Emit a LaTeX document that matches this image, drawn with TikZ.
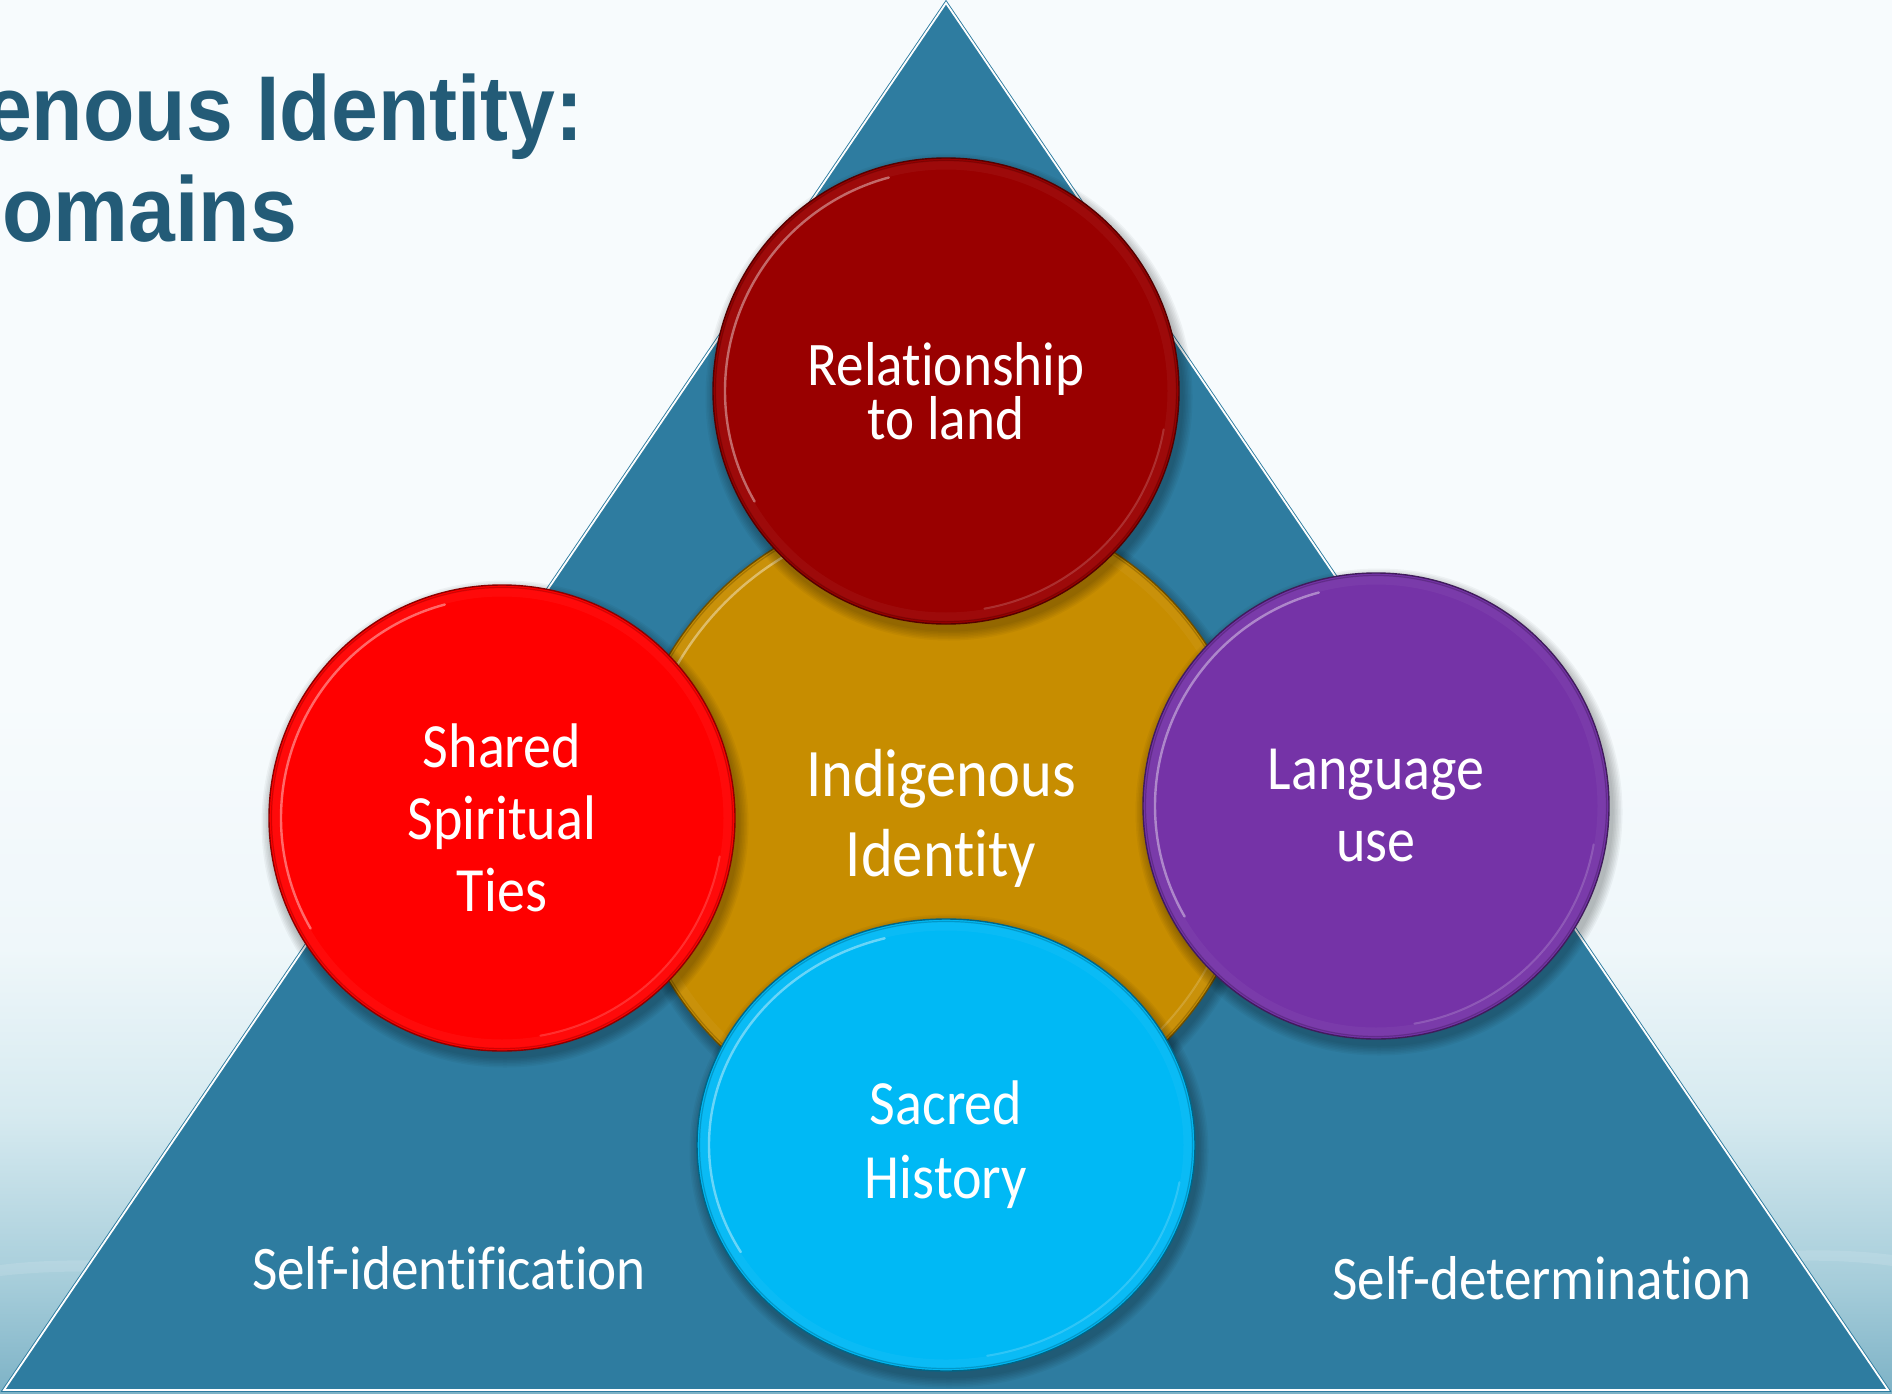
\documentclass[tikz,border=0pt]{standalone}
\usepackage{fontspec}
\setmainfont{Carlito}
\newfontfamily\lblfont{Carlito}[FakeStretch=0.89, Ligatures=NoCommon]
\newfontfamily\ttlfont{Liberation Sans}[FakeStretch=0.915]
\usetikzlibrary{shapes.geometric,calc}

\definecolor{bgtop}{HTML}{F7FBFD}
\definecolor{bgA}{HTML}{EFF7FA}
\definecolor{bgB}{HTML}{D6EAF0}
\definecolor{bgC}{HTML}{A6CDDA}
\definecolor{bgbot}{HTML}{7DB2C6}
\definecolor{tri}{HTML}{2E7CA0}
\definecolor{ttl}{HTML}{235B77}
\definecolor{cLand}{HTML}{990000}
\definecolor{cGold}{HTML}{C78D00}
\definecolor{cShared}{HTML}{FF0000}
\definecolor{cLang}{HTML}{7533A7}
\definecolor{cSacred}{HTML}{00B9F5}

% page background: pale at the top, sea blue towards the bottom
\pgfdeclareverticalshading{pagebg}{100bp}{%
  color(0bp)=(bgbot); color(25bp)=(bgbot); color(29bp)=(bgC);
  color(35bp)=(bgB); color(41bp)=(bgA); color(50bp)=(bgtop);
  color(75bp)=(bgtop); color(100bp)=(bgtop)}

\tikzset{
  disc/.style={circle, inner sep=0pt, minimum size=466pt, fill=#1,
    draw=#1!55!black, line width=1.4pt, text=white, align=center},
  lbl/.style={text=white, inner sep=0pt, font=\lblfont\fontsize{62}{70}\selectfont},
  ttltext/.style={text=ttl, inner sep=0pt, font=\ttlfont\bfseries\fontsize{92}{100}\selectfont},
}

% soft shadow under a disc: centre, x radius, y radius
\newcommand\discshadow[3]{%
  \foreach \k in {1,...,7}{%
    \fill[black, opacity=0.04] ($(#1)+(3,6)$) ellipse [x radius=#2+\k*1.5, y radius=#3+\k*1.5];}}
% bevelled rim of a disc: centre, x radius, y radius, colour
\newcommand\discrim[4]{%
  \draw[#4!88!white, line width=9pt, opacity=.35] (#1) ellipse [x radius=#2-7, y radius=#3-7];
  \draw[#4!50!black, line width=1.2pt, opacity=.35] (#1) ellipse [x radius=#2-2.5, y radius=#3-2.5];
  \draw[#4!45!white, line width=2.4pt, opacity=.75, line cap=round]
    ($(#1)+(150:{#2-12} and {#3-12})$) arc[start angle=150, end angle=255, x radius=#2-12, y radius=#3-12];
  \draw[#4!60!white, line width=2pt, opacity=.45, line cap=round]
    ($(#1)+(10:{#2-12} and {#3-12})$) arc[start angle=10, end angle=80, x radius=#2-12, y radius=#3-12];}

\begin{document}
\begin{tikzpicture}[x=1pt, y=-1pt]
\useasboundingbox (0,0) rectangle (1892,1394);
\clip (0,0) rectangle (1892,1394);
\shade[shading=pagebg] (0,0) rectangle (1892,1394);

% faint light streaks in the lower corners
\fill[white, opacity=.12] (0,1265) .. controls (120,1250) and (260,1275) .. (380,1290)
  -- (380,1298) .. controls (260,1284) and (120,1262) .. (0,1276) -- cycle;
\fill[white, opacity=.12] (1892,1255) .. controls (1780,1240) and (1660,1265) .. (1560,1280)
  -- (1560,1288) .. controls (1660,1274) and (1780,1250) .. (1892,1266) -- cycle;

% title
\node[ttltext, anchor=base east] (title1) at (584,141) {enous Identity:};
\node[ttltext, anchor=base west] (title2) at (2,241) {omains};

% the triangle
\coordinate (apex) at (946,3);
\coordinate (bl) at (4,1390);
\coordinate (br) at (1888,1390);
\fill[tri] (apex) -- (bl) -- (br) -- cycle;
\draw[tri, double=white, double distance=1.8pt, line width=0.9pt, line join=miter]
  (apex) -- (bl) -- (br) -- cycle;

% base labels
\node[lbl] (selfid) at (449,1268) {Self-identification};
\node[lbl] (selfdet) at (1542,1278) {Self-determination};

% centre disc
\coordinate (pGold) at (941,818);
\discshadow{pGold}{317}{317}
\node[disc=cGold, minimum size=634pt, font=\lblfont\fontsize{68}{80}\selectfont]
  (gold) at (pGold) {Indigenous\\Identity};
\discrim{pGold}{317}{317}{cGold}

% left disc
\coordinate (pShared) at (502,818);
\discshadow{pShared}{233}{233}
\node[disc=cShared, font=\lblfont\fontsize{63}{72}\selectfont]
  (shared) at (pShared) {Shared\\Spiritual\\Ties};
\discrim{pShared}{233}{233}{cShared}

% right disc
\coordinate (pLang) at (1376,806);
\discshadow{pLang}{233}{233}
\node[disc=cLang, font=\lblfont\fontsize{63}{72}\selectfont]
  (lang) at (pLang) {Language\\use};
\discrim{pLang}{233}{233}{cLang}

% top disc
\coordinate (pLand) at (946,391);
\discshadow{pLand}{233}{233}
\node[disc=cLand, font=\lblfont\fontsize{62}{53}\selectfont]
  (land) at (pLand) {Relationship\\to land};
\discrim{pLand}{233}{233}{cLand}

% bottom disc
\coordinate (pSacred) at (946,1145);
\discshadow{pSacred}{249}{226}
\node[disc=cSacred, ellipse, minimum width=498pt, minimum height=452pt,
  font=\lblfont\fontsize{63}{74}\selectfont]
  (sacred) at (pSacred) {Sacred\\History};
\discrim{pSacred}{249}{226}{cSacred}
\end{tikzpicture}
\end{document}
